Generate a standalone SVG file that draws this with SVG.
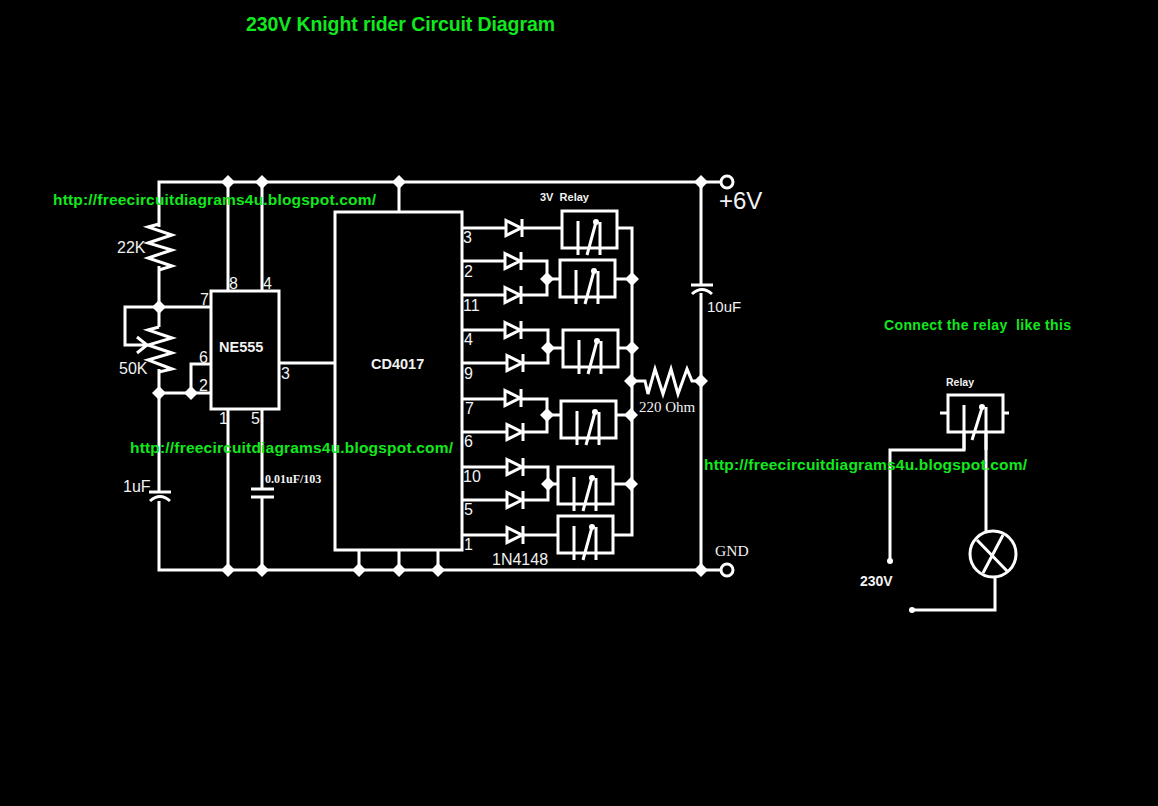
<svg xmlns="http://www.w3.org/2000/svg" width="1158" height="806" viewBox="0 0 1158 806">
<style>
.w{fill:none;stroke:#fff;stroke-width:3}
.d{fill:#fff;stroke:none}
.b{fill:#000;stroke:#fff;stroke-width:3}
text{font-family:"Liberation Sans",Arial,sans-serif;fill:#f2f2f2}
.g{fill:#12e81e;font-weight:bold}
.s{font-family:"Liberation Serif","Times New Roman",serif}
.p{font-size:16px}
</style>
<defs>
<g id="relay"><rect class="b" x="0" y="0" width="55" height="37"/><path class="w" d="M16 10V44M34 11L25 44M38 11V44"/><circle class="d" cx="34" cy="11" r="3"/></g>
<g id="diode"><path class="w" d="M0 -7.500L15 0L0 7.500Z"/><path class="w" d="M16 -9V9"/></g>
<path id="j" class="d" stroke-linejoin="round" d="M0 -7L7 0L0 7L-7 0Z"/>
</defs>
<rect width="1158" height="806" fill="#000"/>
<g id="connectors">
<path class="w" d="M727 182H159V227M159 266V327M159 369V492M159 501V570H727"/>
<path class="w" d="M228 182V291M262 182V291M228 409V570M262 409V489M262 497V570M399 182V212"/>
<path class="w" d="M159 307H211M159 307H125V345H146M159 393H211M191 393V364H211M279 363H335"/>
<path class="w" d="M359 550V570M399 550V570M438 550V570"/>
<path class="w" d="M701 182V285M701 293V570"/>
<path class="w" d="M462 228H506M522 228H562M617 228H632V535H613"/>
<path class="w" d="M462 261H506M522 261H547V295H522M462 295H506M547 279H560M615 279H632"/>
<path class="w" d="M462 330H506M522 330H548V363H522M462 363H506M548 348H563M617 348H632"/>
<path class="w" d="M462 399H506M522 399H547V432H522M462 432H506M547 415H561M616 415H632"/>
<path class="w" d="M462 467H506M522 467H548V500H522M462 500H506M548 484H558M613 484H632"/>
<path class="w" d="M462 535H506M522 535H558"/>
<path class="w" d="M631 381H645L648 394L655 369L663 394L671 369L678 394L687 369L692 381H701"/>
<path class="w" d="M159 224L148 227L172 235L148 243L172 250L148 258L172 266L159 270"/>
<path class="w" d="M159 327L148 330L172 338L148 345L172 353L148 360L172 369L159 372"/>
<path class="w" d="M137 337L147 345L137 353"/>
<path class="w" d="M964 405V450H890V561M986 407V533M995 577V610H912"/>
</g>
<g id="cap-1uF"><path class="w" d="M149 492H171M150 501Q160 492 170 501"/></g>
<g id="cap-001uF"><path class="w" d="M251 489H274M251 497H274"/></g>
<g id="cap-10uF"><path class="w" d="M691 285H713M692 294Q702 285 712 294"/></g>
<g id="junctions">
<use href="#j" x="228" y="182"/><use href="#j" x="262" y="182"/><use href="#j" x="399" y="182"/><use href="#j" x="701" y="182"/>
<use href="#j" x="159" y="307"/><use href="#j" x="159" y="393"/><use href="#j" x="191" y="393"/>
<use href="#j" x="228" y="570"/><use href="#j" x="262" y="570"/><use href="#j" x="359" y="570"/><use href="#j" x="399" y="570"/><use href="#j" x="438" y="570"/><use href="#j" x="701" y="570"/>
<use href="#j" x="547" y="279"/><use href="#j" x="632" y="279"/><use href="#j" x="548" y="348"/><use href="#j" x="632" y="348"/><use href="#j" x="631" y="381"/><use href="#j" x="701" y="381"/>
<use href="#j" x="547" y="415"/><use href="#j" x="631" y="415"/><use href="#j" x="548" y="484"/><use href="#j" x="631" y="484"/>
</g>
<g id="terminal-6V"><circle cx="727" cy="182" r="6" fill="#000" stroke="#fff" stroke-width="3"/></g>
<g id="terminal-GND"><circle cx="727" cy="570" r="6" fill="#000" stroke="#fff" stroke-width="3"/></g>
<g id="ne555"><rect class="b" x="211" y="291" width="68" height="118"/><text x="219" y="352" font-size="14.500" font-weight="bold">NE555</text></g>
<g id="cd4017"><rect class="b" x="335" y="212" width="127" height="338"/><text x="371" y="369" font-size="14.500" font-weight="bold">CD4017</text></g>
<g id="diodes">
<use href="#diode" x="506" y="228"/><use href="#diode" x="505" y="261"/><use href="#diode" x="505" y="295"/><use href="#diode" x="505" y="330"/><use href="#diode" x="507" y="363"/>
<use href="#diode" x="505" y="398"/><use href="#diode" x="507" y="432"/><use href="#diode" x="507" y="467"/><use href="#diode" x="507" y="500"/><use href="#diode" x="507" y="535"/>
</g>
<g id="relay1"><use href="#relay" x="562" y="211"/></g>
<g id="relay2"><use href="#relay" x="560" y="260"/></g>
<g id="relay3"><use href="#relay" x="563" y="330"/></g>
<g id="relay4"><use href="#relay" x="561" y="401"/></g>
<g id="relay5"><use href="#relay" x="558" y="467"/></g>
<g id="relay6"><use href="#relay" x="558" y="516"/></g>
<g id="relay-right">
<path class="w" d="M940 413H948M1003 413H1009"/>
<rect class="b" x="948" y="395" width="55" height="37"/>
<path class="w" d="M964 405V450M982 408L972 440M986 407V450"/><circle class="d" cx="982" cy="407" r="3"/>
</g>
<g id="lamp"><circle cx="993" cy="554" r="23" fill="#000" stroke="#fff" stroke-width="3"/><path class="w" d="M977 540L1008 572M1003 535L983 573"/></g>
<g id="ends"><circle class="d" cx="890" cy="561" r="3"/><circle class="d" cx="912" cy="610" r="3"/></g>
<g id="labels">
<text x="117" y="253" class="p">22K</text>
<text x="119" y="374" class="p">50K</text>
<text x="123" y="492" class="p">1uF</text>
<text x="200" y="305" class="p">7</text>
<text x="199" y="363" class="p">6</text>
<text x="199" y="391" class="p">2</text>
<text x="229" y="289" class="p">8</text>
<text x="263" y="289" class="p">4</text>
<text x="281" y="379" class="p">3</text>
<text x="219" y="424" class="p">1</text>
<text x="251" y="424" class="p">5</text>
<text x="265" y="483" class="s" font-size="12" font-weight="bold">0.01uF/103</text>
<text x="540" y="201" font-size="11" font-weight="bold" xml:space="preserve">3V  Relay</text>
<text x="463" y="243" class="p">3</text>
<text x="464" y="277" class="p">2</text>
<text x="463" y="311" class="p">11</text>
<text x="464" y="345" class="p">4</text>
<text x="464" y="379" class="p">9</text>
<text x="465" y="414" class="p">7</text>
<text x="464" y="447" class="p">6</text>
<text x="463" y="482" class="p">10</text>
<text x="464" y="515" class="p">5</text>
<text x="464" y="550" class="p">1</text>
<text x="492" y="565" font-size="16">1N4148</text>
<text x="639" y="412" class="s" font-size="15">220 Ohm</text>
<text x="707" y="312" font-size="15">10uF</text>
<text x="719" y="209" font-size="24">+6V</text>
<text x="715" y="556" class="s" font-size="15.500">GND</text>
<text x="946" y="386" font-size="10.500" font-weight="bold">Relay</text>
<text x="860" y="586" font-size="14" font-weight="bold">230V</text>
</g>
<g id="green-text">
<text x="246" y="31" class="g" font-size="19.500" textLength="309">230V Knight rider Circuit Diagram</text>
<text x="53" y="205" class="g" font-size="15.500" textLength="323">http://freecircuitdiagrams4u.blogspot.com/</text>
<text x="130" y="453" class="g" font-size="15.500" textLength="323">http://freecircuitdiagrams4u.blogspot.com/</text>
<text x="704" y="470" class="g" font-size="15.500" textLength="323">http://freecircuitdiagrams4u.blogspot.com/</text>
<text x="884" y="330" class="g" font-size="14" textLength="187" xml:space="preserve">Connect the relay  like this</text>
</g>
</svg>
